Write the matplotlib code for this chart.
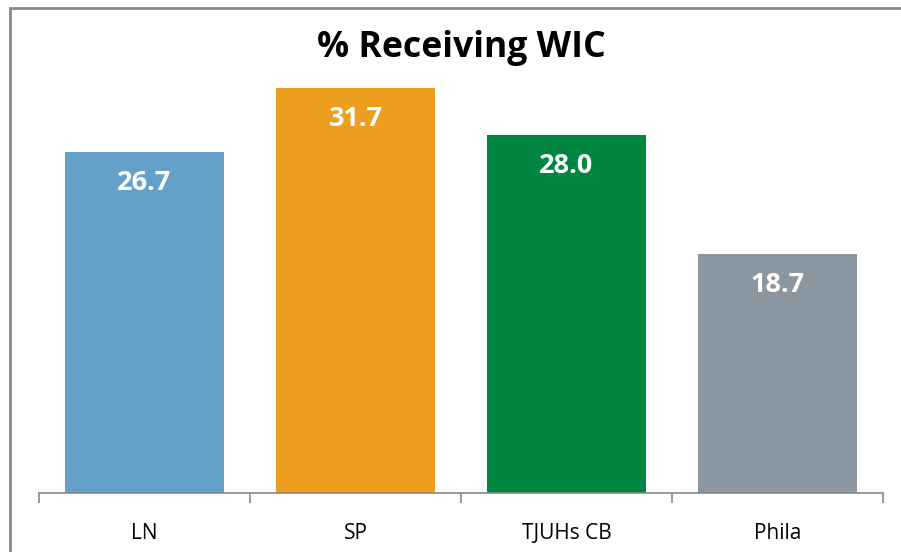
import matplotlib.pyplot as plt
import matplotlib.patches as patches
import numpy as np

categories = ['LN', 'SP', 'TJUHs CB', 'Phila']
values = [26.7, 31.7, 28.0, 18.7]
colors = ['#65A0C8', '#EE9E1E', '#008641', '#8A96A0']
title = '% Receiving WIC'

plt.rcParams['font.family'] = ['Open Sans', 'DejaVu Sans']

fig = plt.figure(figsize=(9.01, 5.52), dpi=100)
W, H = 901, 552
ax = fig.add_axes([39 / W, (H - 493) / H, (883 - 39) / W, (493 - 46) / H])

x = np.arange(len(categories))
bars = ax.bar(x, values, width=0.75, color=colors, zorder=2)
ax.set_xlim(-0.5, len(categories) - 0.5)
ax.set_ylim(0, 35)

for xi, v in zip(x, values):
    ax.annotate('{:.1f}'.format(v), (xi, v), xytext=(0, -22), textcoords='offset points',
                ha='center', va='center', color='white', fontsize=19.5, fontweight='bold')

for s in ['top', 'right', 'left']:
    ax.spines[s].set_visible(False)
ax.spines['bottom'].set_color('#888888')
ax.spines['bottom'].set_linewidth(1.2)
ax.set_yticks([])
ax.set_xticks(np.arange(-0.5, len(categories), 1.0))
ax.set_xticklabels([])
ax.tick_params(axis='x', length=7, color='#888888', width=1.2)
for xi, c in zip(x, categories):
    ax.text(xi, -0.09, c, transform=ax.get_xaxis_transform(), ha='center', va='center',
            fontsize=15, color='black')

fig.text(461 / W, 1 - 48 / H, title, ha='center', va='center', fontsize=25.7, fontweight='bold')

fig.patches.append(patches.Rectangle((10 / W, -0.1), 1.1, 1 - 8 / H + 0.1,
                                     transform=fig.transFigure, fill=False,
                                     edgecolor='#888888', linewidth=2))

fig.savefig('out.png', dpi=100)
